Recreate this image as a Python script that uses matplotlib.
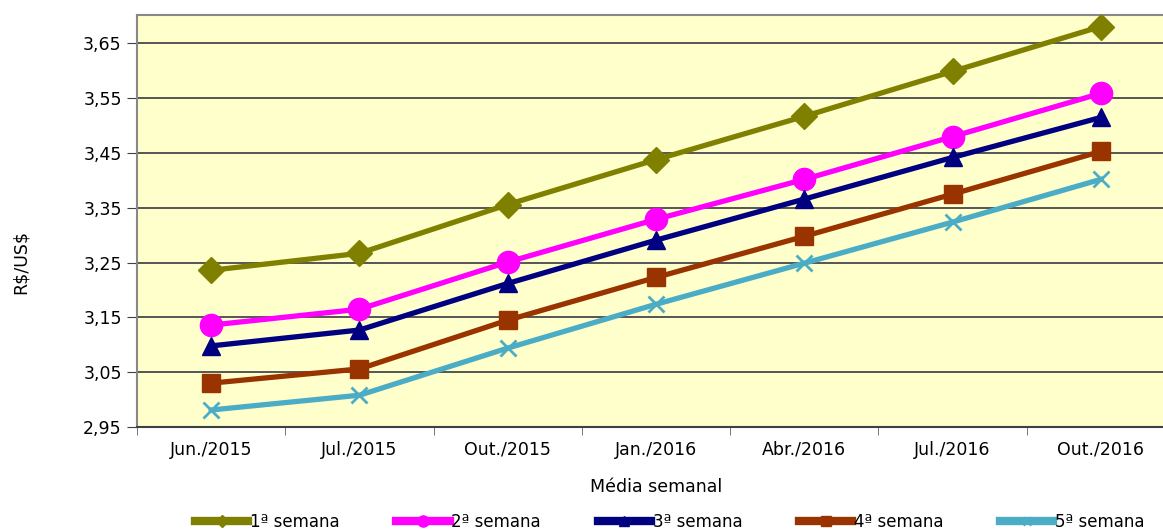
import matplotlib
matplotlib.use('Agg')
from matplotlib import pyplot as plt

meses = ['Jun./2015', 'Jul./2015', 'Out./2015', 'Jan./2016', 'Abr./2016', 'Jul./2016', 'Out./2016']
sem1 = [3.236, 3.267, 3.356, 3.438, 3.517, 3.599, 3.681]
sem2 = [3.136, 3.165, 3.251, 3.329, 3.402, 3.480, 3.559]
sem3 = [3.098, 3.127, 3.212, 3.291, 3.366, 3.442, 3.515]
sem4 = [3.030, 3.056, 3.145, 3.223, 3.298, 3.375, 3.453]
sem5 = [2.981, 3.008, 3.094, 3.174, 3.249, 3.324, 3.402]
nomes = ['1ª semana', '2ª semana', '3ª semana', '4ª semana', '5ª semana']
yticks = [2.95, 3.05, 3.15, 3.25, 3.35, 3.45, 3.55, 3.65]

cores = ['#808000', '#FF00FF', '#000080', '#993300', '#4BACC6']
marcadores = ['D', 'o', '^', 's', 'x']
tamanhos = [13, 16, 13, 13, 12]

plt.rcParams['font.family'] = 'DejaVu Sans'
fig = plt.figure(figsize=(11.63, 5.32), dpi=100)
ax = fig.add_axes([0.1178, 0.1974, 0.8925, 0.7744])
ax.set_facecolor('#FFFFCC')

x = list(range(len(meses)))
for serie, nome, c, m, ms in zip([sem1, sem2, sem3, sem4, sem5], nomes, cores, marcadores, tamanhos):
    ax.plot(x, serie, color=c, lw=3.8, marker=m, markersize=ms,
            markeredgewidth=2 if m == 'x' else 1, markeredgecolor=c, label=nome, zorder=3)

ax.set_xlim(-0.5, 6.5)
ax.set_ylim(2.95, 3.702)
ax.set_yticks(yticks)
ax.set_yticklabels([f'{v:.2f}'.replace('.', ',') for v in yticks], fontsize=12.5)
ax.set_xticks(x)
ax.set_xticklabels(meses, fontsize=12.5)
ax.set_xticks([i + 0.5 for i in range(-1, 7)], minor=True)
ax.tick_params(axis='x', which='major', length=0, pad=10)
ax.tick_params(axis='x', which='minor', length=6, color='#606060')
ax.tick_params(axis='y', length=7, color='#404040', pad=4)
ax.grid(axis='y', color='#555555', lw=1.4, zorder=1)

for s in ['left', 'top', 'right']:
    ax.spines[s].set_color('#888888')
    ax.spines[s].set_linewidth(1.5)
ax.spines['bottom'].set_color('#404040')
ax.spines['bottom'].set_linewidth(1.5)

ax.set_xlabel('Média semanal', fontsize=12.5, labelpad=14)
fig.text(0.018, 0.508, r'R\$/US\$', rotation=90, fontsize=12.5, va='center', ha='center')

leg = fig.legend(loc='lower center', bbox_to_anchor=(0.576, -0.02), ncol=5, frameon=False,
                 fontsize=12, handlelength=3.2, handletextpad=0.1, columnspacing=3.4,
                 markerscale=0.5, borderpad=0.2)
for h in leg.get_lines():
    h.set_linewidth(6)

fig.savefig('out.png', dpi=100)
